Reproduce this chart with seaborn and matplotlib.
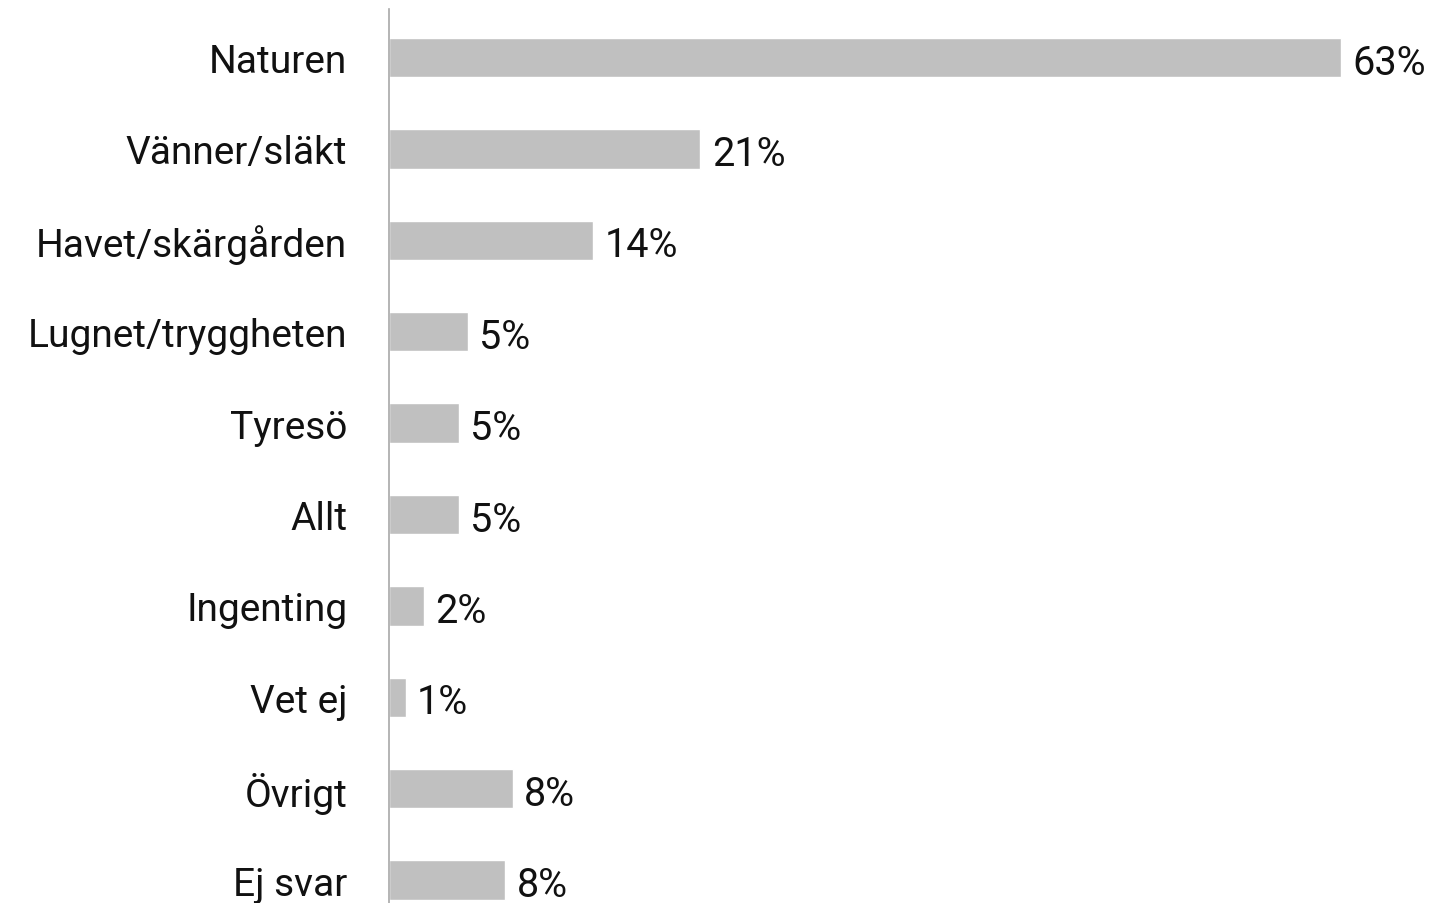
import matplotlib
matplotlib.use("Agg")
import matplotlib.pyplot as plt
import pandas as pd
import seaborn as sns

categories = ["Naturen", "Vänner/släkt", "Havet/skärgården", "Lugnet/tryggheten",
              "Tyresö", "Allt", "Ingenting", "Vet ej", "Övrigt", "Ej svar"]
values = [63.0, 20.6, 13.5, 5.2, 4.6, 4.6, 2.3, 1.1, 8.2, 7.7]
value_labels = ["63%", "21%", "14%", "5%", "5%", "5%", "2%", "1%", "8%", "8%"]

df = pd.DataFrame({"category": categories, "value": values})

sns.set_theme(style="white")
plt.rcParams["font.family"] = ["Roboto", "DejaVu Sans"]

fig = plt.figure(figsize=(14.32, 9.04), dpi=100)
ax = fig.add_axes([389 / 1432, 0, 1 - 389 / 1432, 894 / 904])

sns.barplot(data=df, x="value", y="category", orient="h", color="#c0c0c0",
            saturation=1, width=0.43, ax=ax)

for i, (v, lab) in enumerate(zip(values, value_labels)):
    ax.text(v + 0.75, i + 0.05, lab, va="center", ha="left",
            fontsize=28.5, color="#111111")

ax.set_xlim(0, 69)
ax.set_ylim(9.25, -0.53)
ax.set_xlabel("")
ax.set_ylabel("")
ax.set_xticks([])
ax.tick_params(axis="y", length=0, pad=30, labelsize=28, labelcolor="#111111")
for s in ["top", "right", "bottom"]:
    ax.spines[s].set_visible(False)
ax.spines["left"].set_color("#a8a8a8")
ax.spines["left"].set_linewidth(1.2)

fig.savefig("out.png", dpi=100)
